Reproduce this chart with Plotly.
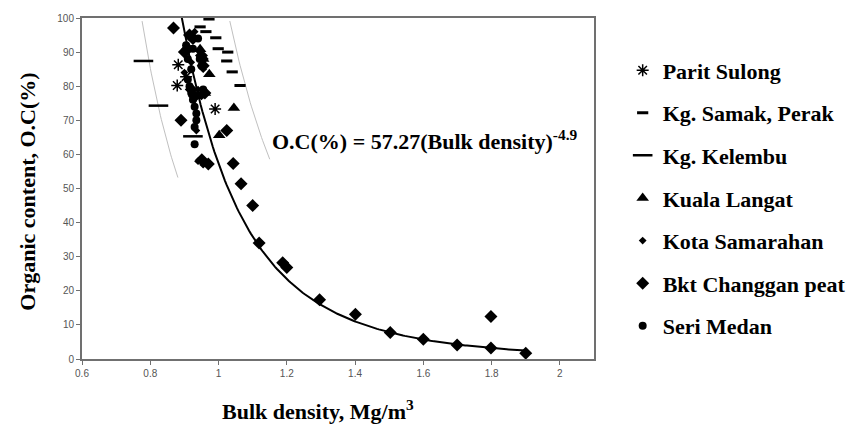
import numpy as np
import plotly.graph_objects as go

# ---- data ----
parit_x = [0.882, 0.879, 0.905, 0.990]
parit_y = [86.3, 80.2, 82.8, 73.3]

samak_x = [0.972, 0.946, 0.963, 0.992, 0.999, 1.027, 1.024, 1.040, 1.063]
samak_y = [99.7, 97.4, 96.0, 94.2, 91.0, 90.0, 87.4, 84.2, 80.2]

kelembu_x = [0.780, 0.824, 0.925]
kelembu_y = [87.4, 74.3, 65.3]

langat_x = [0.973, 1.045, 0.946, 0.940, 1.002, 0.960, 0.955]
langat_y = [83.5, 73.6, 90.8, 77.3, 65.6, 78.0, 88.0]

samarahan_x = [0.930, 0.945, 0.955, 0.960, 0.900, 0.920, 0.940, 0.950, 0.935, 0.940, 0.955]
samarahan_y = [96.0, 90.0, 85.0, 88.0, 84.0, 87.0, 79.0, 77.0, 67.0, 58.0, 57.0]

bkt_x = [0.868, 0.915, 0.925, 0.900, 0.910, 0.950, 0.955, 0.930, 0.920, 0.960,
         0.890, 1.024, 0.951, 0.970, 1.043, 1.066, 1.100, 1.119, 1.188, 1.200,
         1.296, 1.401, 1.503, 1.600, 1.699, 1.798, 1.798, 1.900]
bkt_y = [97.1, 95.0, 94.0, 90.0, 91.0, 89.0, 86.0, 77.0, 79.0, 78.0,
         70.0, 67.0, 58.4, 57.2, 57.3, 51.4, 45.0, 34.0, 28.2, 26.8,
         17.4, 13.1, 7.8, 5.8, 4.1, 3.2, 12.5, 1.7]

seri_x = [0.905, 0.910, 0.920, 0.915, 0.920, 0.925, 0.930, 0.935, 0.935, 0.930,
          0.920, 0.940, 0.950, 0.945, 0.955, 0.910, 0.925, 0.930]
seri_y = [92.0, 88.0, 85.0, 80.0, 78.0, 76.0, 74.0, 72.0, 70.0, 68.0,
          95.0, 94.0, 86.0, 88.0, 79.0, 82.0, 91.0, 63.0]

# fitted model and envelope curves: O.C = a * BD^-k
fit_a, fit_k = 57.27, 4.9
fit_range = [0.892, 1.90]
env_a = [28.6, 116.2]
env_ranges = [[0.776, 0.881], [1.033, 1.150]]

x_ticks = [0.6, 0.8, 1.0, 1.2, 1.4, 1.6, 1.8, 2.0]
x_tick_text = ["0.6", "0.8", "1", "1.2", "1.4", "1.6", "1.8", "2"]
y_ticks = [0, 10, 20, 30, 40, 50, 60, 70, 80, 90, 100]

SERIF = "Liberation Serif"
fig = go.Figure()

# envelope curves
for a, rng in zip(env_a, env_ranges):
    xs = np.linspace(rng[0], rng[1], 40)
    fig.add_trace(go.Scatter(x=xs, y=a * xs ** (-fit_k), mode="lines",
                             line=dict(color="#c0c0c0", width=1),
                             showlegend=False, hoverinfo="skip"))

# fitted curve
xf = np.linspace(fit_range[0], fit_range[1], 200)
fig.add_trace(go.Scatter(x=xf, y=fit_a * xf ** (-fit_k), mode="lines",
                         line=dict(color="black", width=2),
                         showlegend=False, hoverinfo="skip"))

series = [
    ("Parit Sulong", parit_x, parit_y, dict(symbol="asterisk-open", size=10, color="black", line=dict(width=1.5, color="black"))),
    ("Kg. Samak, Perak", samak_x, samak_y, dict(symbol="line-ew-open", size=8, color="black", line=dict(width=3, color="black"))),
    ("Kg. Kelembu", kelembu_x, kelembu_y, dict(symbol="line-ew-open", size=14, color="black", line=dict(width=2.5, color="black"))),
    ("Kuala Langat", langat_x, langat_y, dict(symbol="triangle-up", size=11, color="black")),
    ("Kota Samarahan", samarahan_x, samarahan_y, dict(symbol="diamond", size=6, color="black")),
    ("Bkt Changgan peat", bkt_x, bkt_y, dict(symbol="diamond", size=10, color="black")),
    ("Seri Medan", seri_x, seri_y, dict(symbol="circle", size=8, color="black")),
]
for i, (name, xs, ys, mk) in enumerate(series):
    fig.add_trace(go.Scatter(x=xs, y=ys, mode="markers", name=name, marker=mk,
                             legendgroup=f"g{i}"))

fig.add_annotation(x=1.151, y=64.3, xref="x", yref="y", xanchor="left", yanchor="middle",
                   text="O.C(%) = 57.27(Bulk density)<sup>-4.9</sup>", showarrow=False,
                   font=dict(family=SERIF, size=22, color="black", weight="bold"))

fig.add_annotation(x=0.46, y=-0.149, xref="paper", yref="paper", xanchor="center", yanchor="middle",
                   text="Bulk density, Mg/m<sup>3</sup>", showarrow=False,
                   font=dict(family=SERIF, size=22, color="black", weight="bold"))

fig.add_annotation(x=-0.106, y=0.49, xref="paper", yref="paper", xanchor="center", yanchor="middle",
                   text="Organic content, O.C(%)", showarrow=False, textangle=-90,
                   font=dict(family=SERIF, size=22, color="black", weight="bold"))

# the page body adds an 8px offset; the figure is sized to fit the window without scrollbars
fig.update_layout(
    width=851, height=419,
    margin=dict(l=74, r=265, t=4, b=68),
    paper_bgcolor="white", plot_bgcolor="white",
    legend=dict(x=1.056, y=0.908, xanchor="left", yanchor="top",
                font=dict(family=SERIF, size=22, color="black", weight="bold"),
                tracegroupgap=11, itemwidth=30, bgcolor="rgba(0,0,0,0)"),
    xaxis=dict(range=[0.6, 2.1], tickvals=x_ticks, ticktext=x_tick_text,
               showgrid=False, zeroline=False, showline=True, linecolor="#707070",
               linewidth=2, mirror=True, ticks="outside", ticklen=4, tickcolor="#707070",
               ticklabeloverflow="allow",
               tickfont=dict(family="Liberation Sans", size=10, color="#555555")),
    yaxis=dict(range=[0, 100], tickvals=y_ticks,
               showgrid=False, zeroline=False, showline=True, linecolor="#707070",
               linewidth=2, mirror=True, ticks="outside", ticklen=4, tickcolor="#707070",
               ticklabeloverflow="allow",
               tickfont=dict(family="Liberation Sans", size=10, color="#555555")),
)

fig.write_html("out.html")
